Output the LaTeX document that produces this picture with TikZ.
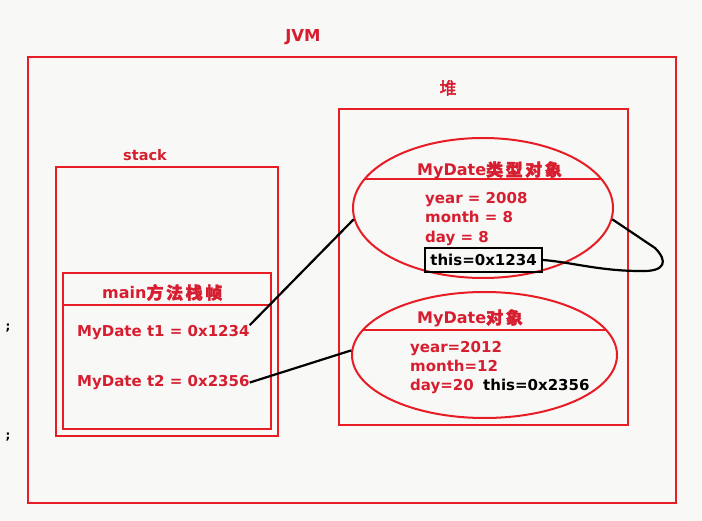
\documentclass[tikz,border=0pt]{standalone}
\usepackage{fontspec}
\setmainfont{DejaVu Sans}
\newfontfamily\cjk{Noto Sans CJK SC}[LetterSpace=15,FakeBold=2]
\newfontfamily\cjkplain{Noto Sans CJK SC}[FakeBold=2.5]
\usetikzlibrary{shapes.geometric}
\definecolor{linered}{RGB}{232,28,36}
\definecolor{txtred}{RGB}{214,30,48}
\definecolor{bgc}{RGB}{248,248,247}
\tikzset{
  box/.style={draw=linered, line width=2.2pt, inner sep=0pt, anchor=north west},
  ell/.style={draw=linered, line width=2pt, ellipse, inner sep=0pt},
  sep/.style={draw=linered, line width=2pt},
  txt/.style={text=txtred, font=\bfseries\fontsize{15}{18}\selectfont, inner sep=0pt, anchor=base west},
  ttl/.style={text=txtred, font=\bfseries\fontsize{16}{19}\selectfont, inner sep=0pt, anchor=base west},
  btxt/.style={text=black, font=\bfseries\fontsize{15}{18}\selectfont, inner sep=0pt},
  link/.style={draw=black, line width=2.2pt},
}
\begin{document}
\begin{tikzpicture}[x=1pt,y=-1pt]
\fill[bgc] (0,0) rectangle (702,521);
\useasboundingbox (0,0) rectangle (702,521);

% JVM
\node[text=txtred, font=\bfseries\fontsize{16.5}{20}\selectfont, inner sep=0pt] (jvmlbl) at (303,37) {JVM};
\node[box, minimum width=648pt, minimum height=446pt] (jvm) at (27,56) {};

% heap
\node[text=txtred, font=\cjkplain\fontsize{17}{19}\selectfont, inner sep=0pt] (heaplbl) at (448,88) {堆};
\node[box, minimum width=289pt, minimum height=316pt] (heap) at (338,108) {};

% stack
\node[text=txtred, font=\bfseries\fontsize{14.5}{17}\selectfont, inner sep=0pt] (stacklbl) at (145,155) {stack};
\node[box, minimum width=222pt, minimum height=269pt] (stack) at (55,166) {};

% main frame
\node[box, minimum width=208pt, minimum height=156pt] (frame) at (62,272) {};
\draw[sep] (62,305) -- (270,305);
\node[ttl] (frametitle) at (102,299) {main{\cjk\fontsize{17}{19}\selectfont 方法栈帧}};
\node[txt] (t1) at (77,336.5) {MyDate t1 = 0x1234};
\node[txt] (t2) at (77,386.5) {MyDate t2 = 0x2356};

% object 1
\node[ell, minimum width=260pt, minimum height=140pt] (ell1) at (483,208) {};
\draw[sep] (364.7,179) -- (601.3,179);
\node[ttl] (ell1title) at (417,176) {MyDate{\cjk\fontsize{17}{19}\selectfont 类型对象}};
\node[txt] (y1) at (425,204) {year = 2008};
\node[txt] (m1) at (425,223) {month = 8};
\node[txt] (d1) at (425,242.5) {day = 8};
\node[btxt, draw=black, line width=2pt, minimum width=117pt, minimum height=24pt] (thisbox) at (483.5,260) {this=0x1234};

% object 2
\node[ell, minimum width=265pt, minimum height=126pt] (ell2) at (484.5,355) {};
\draw[sep] (362.9,330) -- (606.1,330);
\node[ttl] (ell2title) at (417,324) {MyDate{\cjk\fontsize{17}{19}\selectfont 对象}};
\node[txt] (y2) at (410,352.5) {year=2012};
\node[txt] (m2) at (410,371.5) {month=12};
\node[txt] (d2) at (410,390.5) {day=20};
\node[btxt, anchor=base west] (this2) at (483,390.5) {this=0x2356};

% semicolons
\node[text=black, font=\bfseries\fontsize{12}{14}\selectfont, inner sep=0pt] (semi1) at (8,328) {;};
\node[text=black, font=\bfseries\fontsize{12}{14}\selectfont, inner sep=0pt] (semi2) at (8,437) {;};

% connectors
\draw[link] (t1.north east) -- (ell1.185);
\draw[link] (t2.east) -- (ell2.178);
\draw[link, line join=round] (ell1.355) -- (655,248) .. controls (668,261) and (666,272) .. (640,271)
  .. controls (600,271) and (570,262) .. (thisbox.east);
\end{tikzpicture}
\end{document}
